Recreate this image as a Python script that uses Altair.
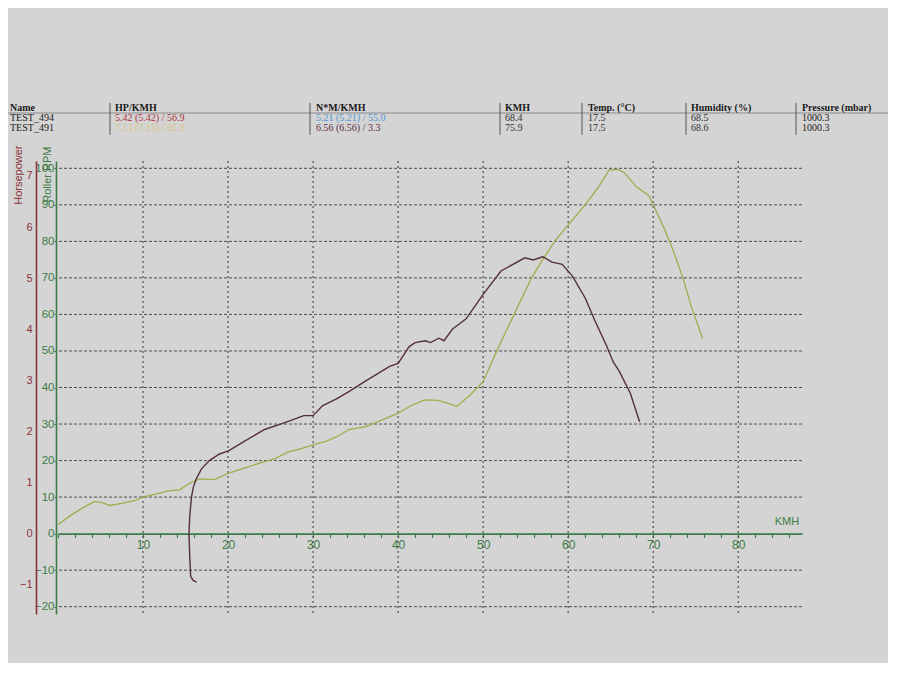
import altair as alt
import pandas as pd

# ---------------- data ----------------
# curve values are read on the Roller RPM grid scale
kmh_491 = [0, 1.5, 3, 4.3, 5.2, 6.1, 7.5, 9, 10, 11.5, 13, 14.3, 15.5, 16.6, 18.4, 20, 22, 24, 25.5, 27,
           28.5, 30, 31.6, 33, 34.2, 36.2, 38, 40, 41.5, 43.1, 44.7, 46.1, 46.9, 48.5, 50, 51.7, 53.7, 55.7,
           57, 58.4, 60, 62, 63.6, 64.8, 65.8, 66.6, 68, 69.5, 70, 71.3, 72.3, 73.5, 74.5, 75.8]
val_491 = [2.5, 5, 7.2, 8.8, 8.5, 7.7, 8.3, 9, 10, 10.8, 11.7, 12, 13.8, 15, 14.8, 16.5, 18, 19.5, 20.5, 22.3,
           23.2, 24.3, 25.3, 26.8, 28.5, 29.3, 31, 33, 35, 36.6, 36.5, 35.5, 34.8, 38, 41.6, 50.5, 60.3, 70,
           75, 80, 84.5, 90, 95, 99.5, 99.7, 98.8, 95, 92.5, 90, 83.5, 77.8, 70, 62, 53.5]

kmh_494 = [16.3, 15.9, 15.6, 15.5, 15.4, 15.5, 15.7, 15.9, 16.3, 16.9, 17.8, 19, 20.1, 22, 24.3, 26.6, 28.9,
           30, 31.1, 32.7, 34.3, 36.2, 39, 40, 41.3, 42, 43.2, 43.8, 44.8, 45.4, 46.4, 48, 50, 52.1, 54.9,
           55.9, 57, 58.1, 59.3, 60.5, 62, 63.2, 64.5, 65.3, 66, 67.3, 68.4]
val_494 = [-13.3, -12.8, -11.7, -6.5, 0, 5, 10, 12.6, 15.2, 17.8, 20, 21.8, 22.7, 25.4, 28.5, 30.3, 32.3,
           32.3, 35, 36.8, 39, 41.8, 45.8, 46.6, 51.2, 52.3, 52.8, 52.3, 53.5, 52.8, 56, 58.8, 65.5, 71.9, 75.5,
           74.9, 75.8, 74.3, 73.7, 70.5, 64.5, 58, 51.5, 47, 44.5, 38.5, 30.6]

x_ticks = list(range(0, 88, 2))
x_grid = [10, 20, 30, 40, 50, 60, 70, 80]
rpm_ticks = [-20, -10, 0, 10, 20, 30, 40, 50, 60, 70, 80, 90, 100]
h_grid = [-20, -10, 10, 20, 30, 40, 50, 60, 70, 80, 90, 100]
hp_ticks = [-1, 0, 1, 2, 3, 4, 5, 6, 7]

header_cols = ["Name", "HP/KMH", "N*M/KMH", "KMH", "Temp. (°C)", "Humidity (%)", "Pressure (mbar)"]
row_494 = ["TEST_494", "5.42 (5.42) / 56.9", "5.21 (5.21) / 55.0", "68.4", "17.5", "68.5", "1000.3"]
row_491 = ["TEST_491", "7.13 (7.13) / 65.3", "6.56 (6.56) / 3.3", "75.9", "17.5", "68.6", "1000.3"]
row_494_colors = ["#222222", "#b0303c", "#4f97d6", "#333333", "#333333", "#333333", "#222222"]
row_491_colors = ["#222222", "#d6c47c", "#5a2c48", "#333333", "#333333", "#333333", "#222222"]

# ---------------- layout (pixels, relative to plot origin) ----------------
W, H = 744, 453
x_domain = [0, 87.5]
grid_domain = [-22, 102]
hp_domain = [-1.573, 7.293]
col_x = [-48, 57, 258, 447, 530, 633, 744]
sep_x = [52, 252, 442, 524, 628, 738]
row_y = [-53, -43, -33]

GREEN = "#3d7c46"
MAROON = "#8a3339"
GRIDC = "#4d4d4d"

xs = alt.Scale(domain=x_domain, nice=False, zero=False)
gs = alt.Scale(domain=grid_domain, nice=False, zero=False)

hgrid = alt.Chart(pd.DataFrame({"v": h_grid})).mark_rule(
    color=GRIDC, strokeDash=[3, 2], strokeWidth=1).encode(
    y=alt.Y("v:Q", scale=gs, axis=None))

vgrid = alt.Chart(pd.DataFrame({"k": x_grid})).mark_rule(
    color=GRIDC, strokeDash=[2, 3], strokeWidth=1.2).encode(
    x=alt.X("k:Q", scale=xs, axis=None))

df491 = pd.DataFrame({"kmh": kmh_491, "v": val_491, "i": range(len(kmh_491))})
df494 = pd.DataFrame({"kmh": kmh_494, "v": val_494, "i": range(len(kmh_494))})

line491 = alt.Chart(df491).mark_line(color="#a3ab4c", strokeWidth=1.3).encode(
    x=alt.X("kmh:Q", scale=xs, axis=alt.Axis(
        values=x_ticks, labelExpr="datum.value % 10 == 0 && datum.value > 0 ? datum.label : ''",
        offset=-80.37, grid=False, title=None, domainColor=GREEN, domainWidth=1.6,
        tickColor=GREEN, tickSize=4, tickWidth=1.2, labelColor=GREEN, labelFontSize=12,
        labelFont="Liberation Sans", labelPadding=2)),
    y=alt.Y("v:Q", scale=gs, axis=alt.Axis(
        orient="left", offset=2, values=rpm_ticks, grid=False, title="Roller RPM",
        titleColor=GREEN, titleFontSize=11, titleFontWeight="normal", titleFont="Liberation Sans",
        titleX=-9, titleY=-15, titleAngle=270, titleAlign="right", titleBaseline="middle",
        domainColor=GREEN, domainWidth=1.6, tickColor=GREEN, tickSize=2,
        labelColor=GREEN, labelFontSize=11.5, labelFont="Liberation Sans", labelPadding=0)),
    order="i:Q")

line494 = alt.Chart(df494).mark_line(color="#55303c", strokeWidth=1.4).encode(
    x=alt.X("kmh:Q", scale=xs, axis=None),
    y=alt.Y("v:Q", scale=gs, axis=None),
    order="i:Q")

hp_axis = alt.Chart(pd.DataFrame({"hp": hp_domain})).mark_point(opacity=0).encode(
    x=alt.value(0),
    y=alt.Y("hp:Q", scale=alt.Scale(domain=hp_domain, nice=False, zero=False), axis=alt.Axis(
        orient="left", offset=22, values=hp_ticks, grid=False, title="Horsepower",
        titleColor=MAROON, titleFontSize=11, titleFontWeight="normal", titleFont="Liberation Sans",
        titleX=-18, titleY=-16, titleAngle=270, titleAlign="right", titleBaseline="middle",
        domainColor=MAROON, domainWidth=1.6, tickSize=0,
        labelColor=MAROON, labelFontSize=11, labelFont="Liberation Sans", labelPadding=4)))

kmh_title = alt.Chart(pd.DataFrame({"t": ["KMH"]})).mark_text(
    color=GREEN, fontSize=11, font="Liberation Sans", align="center", baseline="bottom").encode(
    x=alt.value(729), y=alt.value(366), text="t:N")

# header table
hdr = pd.DataFrame({"px": col_x, "py": [row_y[0]] * 7, "t": header_cols})
rows = pd.DataFrame({
    "px": col_x + col_x,
    "py": [row_y[1]] * 7 + [row_y[2]] * 7,
    "t": row_494 + row_491,
    "c": row_494_colors + row_491_colors,
})
hdr_text = alt.Chart(hdr).mark_text(
    align="left", baseline="middle", font="Liberation Serif", fontSize=10, fontWeight="bold",
    color="#1a1a1a").encode(
    x=alt.X("px:Q", scale=None, axis=None), y=alt.Y("py:Q", scale=None, axis=None), text="t:N")
row_text = alt.Chart(rows).mark_text(
    align="left", baseline="middle", font="Liberation Serif", fontSize=10).encode(
    x=alt.X("px:Q", scale=None, axis=None), y=alt.Y("py:Q", scale=None, axis=None), text="t:N",
    color=alt.Color("c:N", scale=None, legend=None))
seps = alt.Chart(pd.DataFrame({"sx": sep_x})).mark_rule(color="#555555", strokeWidth=1).encode(
    x=alt.X("sx:Q", scale=None, axis=None), y=alt.value(-58), y2=alt.value(-26))
hline = alt.Chart(pd.DataFrame({"a": [0]})).mark_rule(color="#777777", strokeWidth=0.8).encode(
    x=alt.value(-50), x2=alt.value(830), y=alt.value(-48))

chart = alt.layer(
    hgrid, vgrid, line491, line494, hp_axis, kmh_title, hline, seps, hdr_text, row_text
).resolve_scale(x="independent", y="independent").properties(
    width=W, height=H,
    autosize=alt.AutoSizeParams(type="none"),
    padding={"left": 50, "top": 153, "right": 86, "bottom": 49},
).configure(background="#d4d4d4").configure_view(strokeWidth=0)

chart.save("out.html", embed_options={"renderer": "svg", "actions": False})
